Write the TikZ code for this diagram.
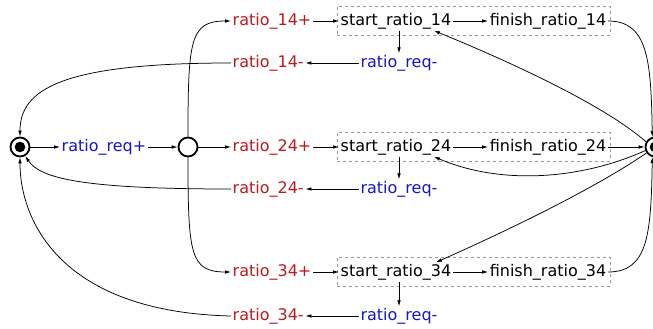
\documentclass[tikz,border=0pt]{standalone}
\usepackage{fontspec}
\setmainfont{DejaVu Sans}
\usetikzlibrary{arrows.meta}
\definecolor{evred}{RGB}{190,24,30}
\definecolor{evblue}{RGB}{22,22,196}
\definecolor{boxgray}{RGB}{150,150,150}
\tikzset{
  lbl/.style={inner sep=1.5pt, font=\fontsize{16}{18}\selectfont},
  outlbl/.style={lbl, text=evred},
  inlbl/.style={lbl, text=evblue},
  evlbl/.style={lbl, text=black},
  grpbox/.style={draw=boxgray, dashed, line width=0.6pt, minimum width=273pt, minimum height=29pt, inner sep=0},
  place/.style={circle, draw, line width=1.8pt, minimum size=19pt, inner sep=0},
  arr/.style={line width=0.75pt, -{Latex[length=6pt,width=3.6pt]}},
}
\begin{document}
\begin{tikzpicture}[x=1pt,y=-1pt]
\useasboundingbox (0,0) rectangle (653,329);

% places
\node[place] (L) at (20,147) {};
\fill (L) circle (5.3);
\node[place] (M) at (188,147) {};
\node[place] (R) at (655,147) {};
\fill (R) circle (5.3);

\node[inlbl] (reqp) at (104,147) {ratio\_req+};

% grouped start/finish pairs
\node[grpbox] (b14) at (473.5,20.5) {};
\node[grpbox] (b24) at (473.5,146.5) {};
\node[grpbox] (b34) at (473.5,271.5) {};

\node[evlbl] (s14) at (396,21) {start\_ratio\_14};
\node[evlbl] (f14) at (548,21) {finish\_ratio\_14};
\node[evlbl] (s24) at (396,147) {start\_ratio\_24};
\node[evlbl] (f24) at (548,147) {finish\_ratio\_24};
\node[evlbl] (s34) at (396,272) {start\_ratio\_34};
\node[evlbl] (f34) at (548,272) {finish\_ratio\_34};

\node[outlbl, anchor=west] (p14) at (231,21) {ratio\_14+};
\node[outlbl, anchor=west] (m14) at (231,63) {ratio\_14-};
\node[outlbl, anchor=west] (p24) at (231,147) {ratio\_24+};
\node[outlbl, anchor=west] (m24) at (231,189) {ratio\_24-};
\node[outlbl, anchor=west] (p34) at (231,272) {ratio\_34+};
\node[outlbl, anchor=west] (m34) at (231,316) {ratio\_34-};

\node[inlbl] (q14) at (399,63) {ratio\_req-};
\node[inlbl] (q24) at (399,189) {ratio\_req-};
\node[inlbl] (q34) at (399,316) {ratio\_req-};

% request handshake
\draw[arr] (L) -- (reqp);
\draw[arr] (reqp) -- (M);

% fork from the middle place
\draw[arr] (M.north) .. controls (188,40) and (190,21) .. (p14.west);
\draw[arr] (M) -- (p24);
\draw[arr] (M.south) .. controls (188,254) and (190,272) .. (p34.west);

% rows
\foreach \r in {14,24,34}{
  \draw[arr] (p\r) -- (s\r);
  \draw[arr] (s\r) -- (f\r);
  \draw[arr] (s\r.south -| q\r) -- (q\r);
  \draw[arr] (q\r) -- (m\r);
}

% into the right place
\draw[arr] (f14.east) .. controls (648,21) and (651,60) .. (R.105);
\draw[arr] (f24) -- (R);
\draw[arr] (f34.east) .. controls (648,272) and (651,235) .. (R.255);

% out of the right place
\draw[arr] (R.150) .. controls (610,110) and (530,70) .. ([xshift=-19pt]s14.south east);
\draw[arr] (R.200) .. controls (580,180) and (500,185) .. ([xshift=-19pt]s24.south east);
\draw[arr] (R.215) .. controls (600,185) and (520,225) .. ([xshift=-17pt]s34.north east);

% back to the left place
\draw[arr] (m14.west) .. controls (60,63) and (20,90) .. (L.north);
\draw[arr] (m24.west) .. controls (80,189) and (40,178) .. (L.-60);
\draw[arr] (m34.west) .. controls (60,312) and (20,220) .. (L.south);
\end{tikzpicture}
\end{document}
